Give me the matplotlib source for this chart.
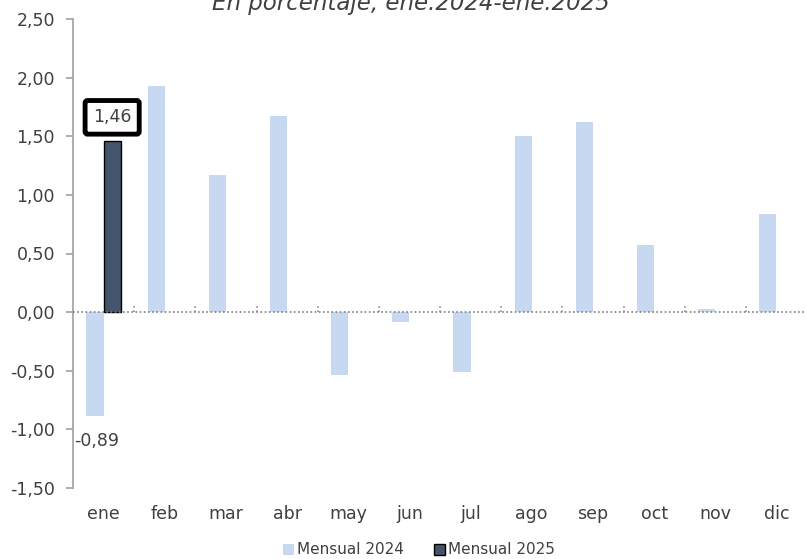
import numpy as np
import matplotlib
matplotlib.use("Agg")
from matplotlib import pyplot as plt

# data
meses = ["ene", "feb", "mar", "abr", "may", "jun", "jul", "ago", "sep", "oct", "nov", "dic"]
mensual_2024 = [-0.89, 1.93, 1.17, 1.67, -0.54, -0.08, -0.51, 1.50, 1.62, 0.57, 0.03, 0.84]
mensual_2025 = [1.46]
yticks = [-1.5, -1.0, -0.5, 0.0, 0.5, 1.0, 1.5, 2.0, 2.5]

c2024 = "#C6D9F0"
c2025 = "#44546A"
txt = "#404040"

plt.rcParams["font.family"] = ["DejaVu Sans"]

fig = plt.figure(figsize=(8.06, 5.59), dpi=100)
ax = fig.add_axes([73 / 806, 1 - 488 / 559, 1 - 72 / 806, (488 - 19) / 559])

x = np.arange(len(meses))
w = 0.28
ax.bar(x - w / 2, mensual_2024, width=w, color=c2024, label="Mensual 2024", zorder=2)
x25 = x[: len(mensual_2025)]
ax.bar(x25 + w / 2, mensual_2025, width=w, color=c2025, edgecolor="black",
       linewidth=1, label="Mensual 2025", zorder=2)

# zero line
ax.axhline(0, color="#808080", linestyle=(0, (1, 1.5)), linewidth=1.2, zorder=3)

ax.set_xlim(-0.5, len(meses) - 0.5)
ax.set_ylim(-1.5, 2.5)
ax.set_yticks(yticks)
ax.set_yticklabels([("%.2f" % v).replace(".", ",") for v in yticks], fontsize=12.5, color=txt)
ax.set_xticks(x)
ax.set_xticklabels(meses, fontsize=12.5, color=txt)
ax.tick_params(axis="x", length=0, pad=12)
ax.tick_params(axis="y", direction="out", length=5, color="#A0A0A0", width=1.2, pad=8)

for s in ["top", "right", "bottom"]:
    ax.spines[s].set_visible(False)
ax.spines["left"].set_color("#A0A0A0")
ax.spines["left"].set_linewidth(1.2)

# small category separators on the zero line
for b in np.arange(0.5, len(meses) - 0.5, 1.0):
    ax.plot([b, b], [0, 0.05], color="#909090", linestyle=(0, (1, 1.5)), linewidth=1.2, zorder=3)

# data labels
ax.annotate(("%.2f" % mensual_2025[0]).replace(".", ","), (x25[0] + w / 2, mensual_2025[0]),
            xytext=(0, 17), textcoords="offset points", ha="center", va="center",
            fontsize=12.5, color=txt,
            bbox=dict(boxstyle="round,pad=0.45,rounding_size=0.15", fc="white", ec="black", lw=3.5))
ax.annotate(("%.2f" % mensual_2024[0]).replace(".", ","), (x[0] - 0.12, mensual_2024[0]),
            xytext=(0, -18), textcoords="offset points", ha="center", va="center",
            fontsize=12.5, color=txt)

fig.text(411 / 806, 1 - 10 / 559, "En porcentaje, ene.2024-ene.2025", ha="center", va="baseline",
         fontsize=16.5, style="italic", color=txt)

fig.legend(loc="center", bbox_to_anchor=(0.52, 1 - 550 / 559), ncol=2, frameon=False,
           fontsize=11, handlelength=0.7, handleheight=0.7, handletextpad=0.2,
           columnspacing=2.0, labelcolor=txt)

fig.savefig("out.png", dpi=100)
